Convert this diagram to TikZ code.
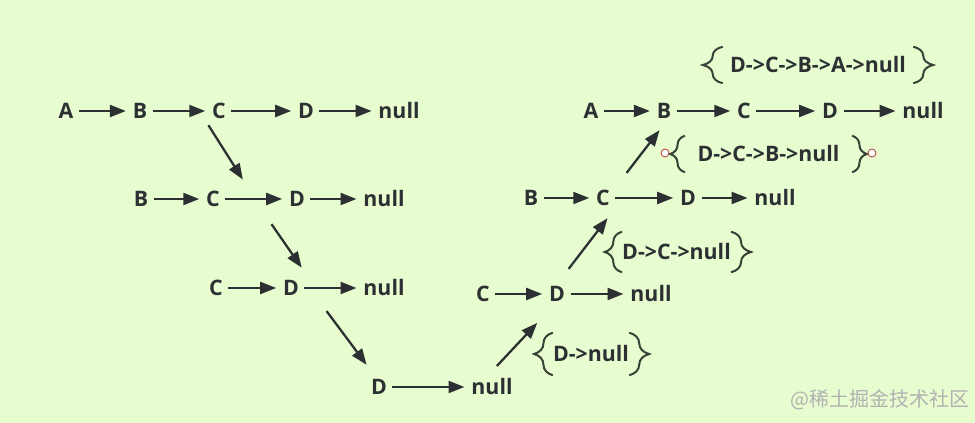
\documentclass[tikz,border=0pt]{standalone}
\usepackage{fontspec}
\setmainfont{Open Sans}
\newfontfamily\cjkfont{Noto Sans CJK SC}
\usepackage{tikz}
\usetikzlibrary{arrows.meta, decorations.pathreplacing}

\definecolor{paper}{RGB}{231,252,207}
\definecolor{ink}{RGB}{45,48,50}
\definecolor{bracket}{RGB}{58,66,56}
\definecolor{pinred}{RGB}{180,60,60}

\begin{document}
\begin{tikzpicture}[
  x=0.75pt, y=-0.75pt,
  item/.style={
    inner sep=2pt,
    text=ink,
    font=\fontsize{16}{19}\selectfont\bfseries
  },
  note/.style={
    minimum width=#1,
    minimum height=27pt,
    inner sep=0pt,
    text=ink,
    font=\fontsize{16}{19}\selectfont\bfseries
  },
  link/.style={
    -{Triangle[length=12pt, width=9pt]},
    line width=1.7pt,
    draw=ink,
    shorten >=3pt,
    shorten <=2pt
  },
  curly/.style={
    decorate,
    decoration={brace, amplitude=#1},
    line width=1.5pt,
    draw=bracket
  },
  knob/.style={
    circle,
    draw=pinred,
    fill=white,
    line width=0.6pt,
    minimum size=6pt,
    inner sep=0pt
  }
]
% Background
\fill[paper] (0,0) rectangle (975,423);

% Left side: the list shrinking step by step
\node[item] (a1) at (66,111) {A};
\node[item] (b1) at (140,111) {B};
\node[item] (c1) at (219,111) {C};
\node[item] (d1) at (306,111) {D};
\node[item] (n1) at (399,111) {null};

\node[item] (b2) at (141,199) {B};
\node[item] (c2) at (213,199) {C};
\node[item] (d2) at (297,199) {D};
\node[item] (n2) at (384,199) {null};

\node[item] (c3) at (216,288) {C};
\node[item] (d3) at (291,288) {D};
\node[item] (n3) at (384,288) {null};

\node[item] (d4) at (379,387) {D};
\node[item] (n4) at (492,387) {null};

% Right side: the list growing back
\node[item] (c5) at (483,294) {C};
\node[item] (d5) at (557,294) {D};
\node[item] (n5) at (651,294) {null};

\node[item] (b6) at (531,198) {B};
\node[item] (c6) at (603,198) {C};
\node[item] (d6) at (688,198) {D};
\node[item] (n6) at (775,198) {null};

\node[item] (a7) at (591,111) {A};
\node[item] (b7) at (664,111) {B};
\node[item] (c7) at (744,111) {C};
\node[item] (d7) at (830,111) {D};
\node[item] (n7) at (923,111) {null};

% Horizontal links
\draw[link] (a1) -- (b1);
\draw[link] (b1) -- (c1);
\draw[link] (c1) -- (d1);
\draw[link] (d1) -- (n1);
\draw[link] (b2) -- (c2);
\draw[link] (c2) -- (d2);
\draw[link] (d2) -- (n2);
\draw[link] (c3) -- (d3);
\draw[link] (d3) -- (n3);
\draw[link] (d4) -- (n4);
\draw[link] (c5) -- (d5);
\draw[link] (d5) -- (n5);
\draw[link] (b6) -- (c6);
\draw[link] (c6) -- (d6);
\draw[link] (d6) -- (n6);
\draw[link] (a7) -- (b7);
\draw[link] (b7) -- (c7);
\draw[link] (c7) -- (d7);
\draw[link] (d7) -- (n7);

% Steps between rows
\coordinate (down1s) at (207,123);
\coordinate (down1e) at (245,183);
\coordinate (down2s) at (270,222);
\coordinate (down2e) at (304,271);
\coordinate (down3s) at (325,309);
\coordinate (down3e) at (369,368);
\coordinate (up1s) at (495,368);
\coordinate (up1e) at (540,320);
\coordinate (up2s) at (567,271);
\coordinate (up2e) at (610,215);
\coordinate (up3s) at (625,175);
\coordinate (up3e) at (662,127);

\draw[link] (down1s) -- (down1e);
\draw[link] (down2s) -- (down2e);
\draw[link] (down3s) -- (down3e);
\draw[link] (up1s) -- (up1e);
\draw[link] (up2s) -- (up2e);
\draw[link] (up3s) -- (up3e);

% Reversed results in braces
\node[note=142.5pt] (r4) at (818,65) {D->C->B->A->null};
\node[note=125pt] (r3) at (768.5,154) {D->C->B->null};
\node[note=80pt, minimum height=30pt] (r2) at (676.5,252) {D->C->null};
\node[note=51pt, minimum height=31.5pt] (r1) at (591,354) {D->null};

\draw[curly=15pt] (r4.south west) -- (r4.north west);
\draw[curly=15pt] (r4.north east) -- (r4.south east);
\draw[curly=11pt] (r3.south west) -- (r3.north west);
\draw[curly=11pt] (r3.north east) -- (r3.south east);
\draw[curly=13pt] (r2.south west) -- (r2.north west);
\draw[curly=15pt] (r2.north east) -- (r2.south east);
\draw[curly=14pt] (r1.south west) -- (r1.north west);
\draw[curly=15pt] (r1.north east) -- (r1.south east);

\node[knob] (k1) at (665,153) {};
\node[knob] (k2) at (872,153) {};

% Watermark
\node[text=black!30, font=\cjkfont\fontsize{15}{17}\selectfont] (mark) at (880,400) {@稀土掘金技术社区};
\end{tikzpicture}
\end{document}
